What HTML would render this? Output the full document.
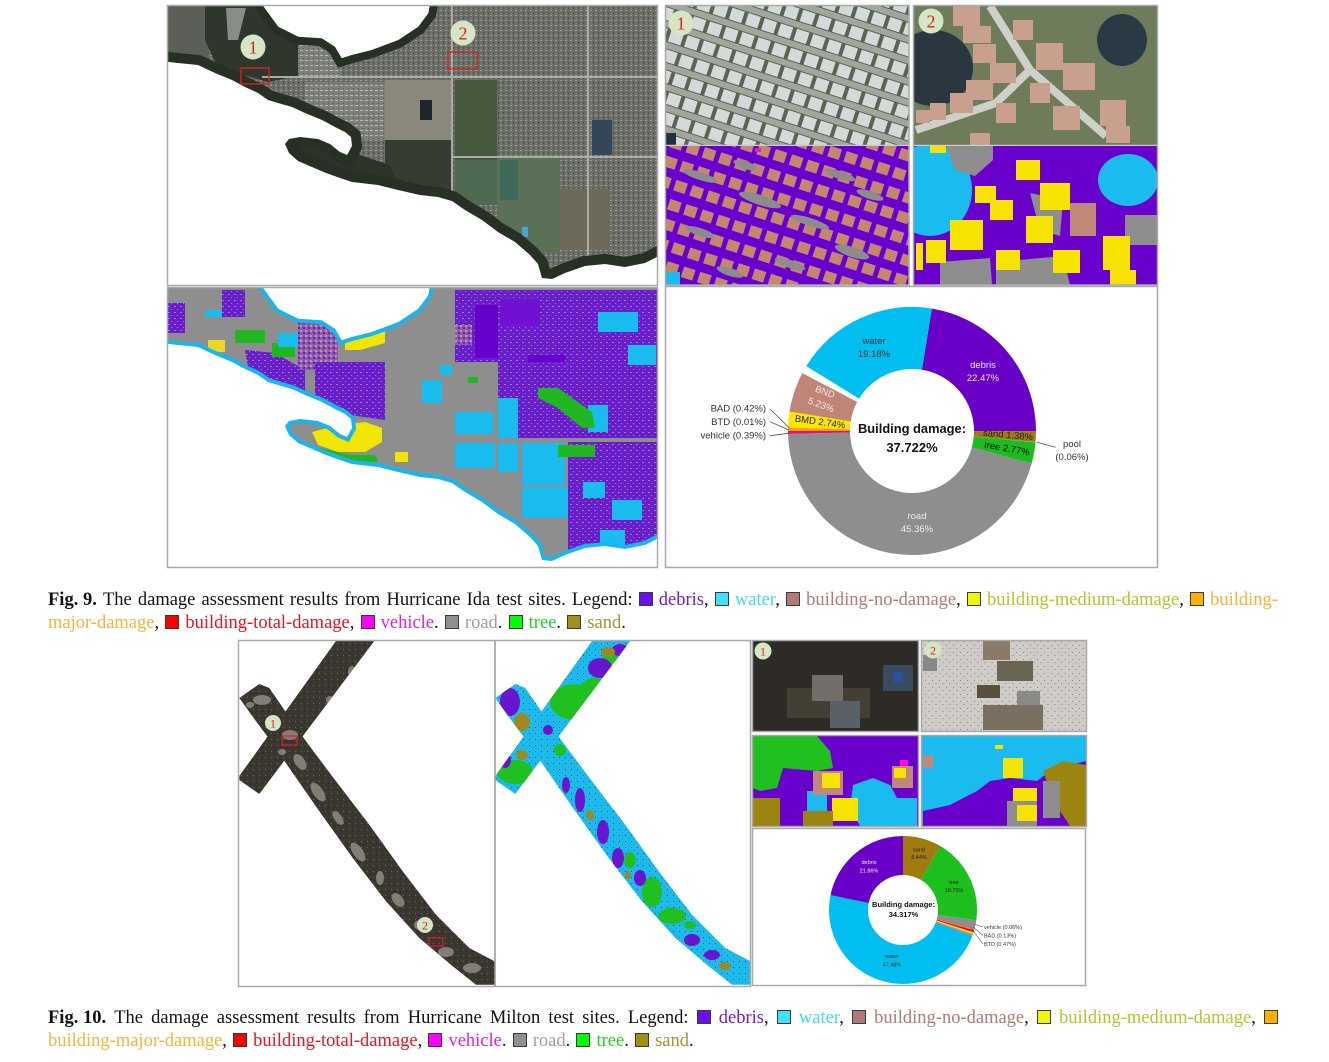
<!DOCTYPE html>
<html><head><meta charset="utf-8">
<style>
html,body{margin:0;padding:0;background:#fff;width:1329px;height:1062px;overflow:hidden;position:relative}
svg{position:absolute;left:0;top:0}
.cap{position:absolute;left:48px;width:1230px;height:23px;line-height:23px;font-family:"Liberation Serif",serif;font-size:18.5px;color:#111;white-space:nowrap}
.j{display:flex;justify-content:space-between}
.l2{word-spacing:1.5px}
.q{display:inline-block;width:12px;height:12px;border:1px solid #3a3a3a;vertical-align:-1px}
.cd{color:#6d1be0}.cw{color:#45d6f0}.cn{color:#b07a78}.cm{color:#b4c42a}.cj{color:#f7b33a}.ct{color:#e8141e}.cv{color:#e020e0}.cr{color:#a0a0a0}.ce{color:#1ed21e}.cs{color:#a89030}
</style></head><body>
<svg width="1329" height="1062" viewBox="0 0 1329 1062" xmlns="http://www.w3.org/2000/svg">
<defs>
<polygon id="wTop" points="261.7,4 278.3,26.7 298.3,36.7 321.7,38.3 335,46.7 341.7,58.3 351.7,55 371.7,50 398.3,40 418.3,26.7 428.3,13.3 430,4"/>
<polygon id="wBot" points="166,61.7 178,63 198,65 215,73 232,80 245,87 258,93 268,100 278,103 292,107 305,113 322,120 335,127 345,132 351,137 352,146 347,155 340,152 330,144 318,139 300,137 289,139 285,144 289,153 298,161 312,167 326,173 340,178 352,182 378,185 398,190 420,195 438,197 452,201 465,210 482,220 498,232 515,242 530,255 538,264 542,278 552,279 565,273 585,266 605,264 625,267 645,263 659,256 659,289 166,289"/>
<polygon id="s1" points="239.3,776 336,641 374.3,641 259.3,794 239.3,780"/>
<polygon id="s2" points="239.3,698 259.3,684 269.3,688 306,741.3 336,781.3 369.3,824.7 402.7,871.3 436,914.7 469.3,948 494.5,961.3 494.5,984.7 476,984.7 452.7,966.3 419.3,938 386,901.3 352.7,858 319.3,811.3 289.3,768 271,741.3 256,721.3"/>
<clipPath id="cA"><rect x="168" y="6" width="489" height="279"/></clipPath>
<clipPath id="cB"><rect x="168" y="288" width="489" height="279"/></clipPath>
<clipPath id="cR1s"><rect x="666" y="6" width="243" height="139"/></clipPath>
<clipPath id="cR1g"><rect x="666" y="146" width="243" height="139"/></clipPath>
<clipPath id="cR2s"><rect x="914" y="6" width="243" height="139"/></clipPath>
<clipPath id="cR2g"><rect x="914" y="146" width="243" height="139"/></clipPath>
<clipPath id="cX1"><use href="#s1"/><use href="#s2"/></clipPath>
<clipPath id="cX2"><use href="#s1" transform="translate(256,0)"/><use href="#s2" transform="translate(256,0)"/></clipPath>
<clipPath id="cP1"><rect x="753" y="641" width="165" height="90"/></clipPath>
<clipPath id="cP2"><rect x="922" y="641" width="164" height="90"/></clipPath>
<clipPath id="cP3"><rect x="753" y="736" width="165" height="90"/></clipPath>
<clipPath id="cP4"><rect x="922" y="736" width="164" height="90"/></clipPath>
<pattern id="urb" width="5" height="5" patternUnits="userSpaceOnUse">
<rect width="5" height="5" fill="#6a6e66"/><rect x="0" y="0" width="2" height="1" fill="#9a9d96"/><rect x="3" y="2" width="1" height="2" fill="#4c5248"/><rect x="1" y="3" width="1" height="1" fill="#858880"/>
</pattern>
<pattern id="urbL" width="5" height="5" patternUnits="userSpaceOnUse">
<rect width="5" height="5" fill="#7d7f79"/><rect x="0" y="0" width="3" height="1" fill="#b5b7b1"/><rect x="3" y="3" width="1" height="1" fill="#555951"/>
</pattern>
<pattern id="roofs1" width="17" height="20" patternUnits="userSpaceOnUse" patternTransform="rotate(18)">
<rect width="17" height="20" fill="#5a6454"/><rect x="0" y="14" width="17" height="6" fill="#a3a69f"/><rect x="2" y="1" width="13" height="12" fill="#d6d9d9"/>
</pattern>
<pattern id="seg1" width="17" height="20" patternUnits="userSpaceOnUse" patternTransform="rotate(18)">
<rect width="17" height="20" fill="#6a00d0"/><rect x="2" y="2" width="12" height="11" fill="#c3866f"/>
</pattern>
<pattern id="spk" width="6" height="6" patternUnits="userSpaceOnUse">
<rect width="6" height="6" fill="#6a1cd0"/><rect x="0" y="0" width="2" height="1" fill="#8e8e8e"/><rect x="3" y="3" width="1" height="1" fill="#b07f9a"/>
</pattern>
<pattern id="spk2" width="5" height="5" patternUnits="userSpaceOnUse">
<rect width="5" height="5" fill="#8c5cb0"/><rect x="0" y="0" width="2" height="2" fill="#c59a80"/><rect x="3" y="2" width="2" height="2" fill="#6a1cd0"/>
</pattern>
<pattern id="stex" width="6" height="6" patternUnits="userSpaceOnUse">
<rect width="6" height="6" fill="#3a3630"/><rect x="1" y="1" width="1" height="1" fill="#6e6a62"/><rect x="4" y="3" width="1" height="1" fill="#27241f"/>
</pattern>
<pattern id="smix" width="6" height="6" patternUnits="userSpaceOnUse">
<rect width="6" height="6" fill="#1abbef"/><rect x="1" y="1" width="1" height="1" fill="#6a14d0"/><rect x="4" y="4" width="1" height="1" fill="#20c020"/>
</pattern>
<pattern id="ssat2" width="7" height="7" patternUnits="userSpaceOnUse">
<rect width="7" height="7" fill="#cfcbc6"/><rect x="1" y="1" width="1" height="1" fill="#8a8680"/><rect x="4" y="4" width="2" height="1" fill="#a9a59f"/>
</pattern>
</defs>

<!-- ============ FIG 9 satellite map ============ -->
<g clip-path="url(#cA)">
<rect x="168" y="6" width="489" height="279" fill="url(#urb)"/>
<rect x="168" y="6" width="40" height="56" fill="#5b5f58"/>
<polygon points="205,6 262,6 278,27 298,37 298,76 268,82 240,74 215,62 205,40" fill="#2f372d"/>
<polygon points="226,8 246,8 238,40 228,40" fill="#8a8c88"/>
<polygon points="298,37 322,38 335,47 342,60 340,76 298,76" fill="url(#urbL)"/>
<rect x="305" y="82" width="80" height="58" fill="url(#urbL)"/>
<rect x="385" y="80" width="67" height="60" fill="#8a877d"/>
<rect x="420" y="100" width="12" height="20" fill="#1f262b"/>
<rect x="385" y="140" width="67" height="60" fill="#353d33"/>
<polygon points="285,140 350,140 360,155 390,165 400,190 352,184 312,168 288,153" fill="#2c3429"/>
<rect x="455" y="80" width="42" height="80" fill="#46593f"/>
<rect x="455" y="160" width="42" height="45" fill="#4f6a52"/>
<rect x="497" y="157" width="63" height="95" fill="#5b7157"/>
<rect x="500" y="160" width="18" height="40" fill="#3f6a5a"/>
<rect x="560" y="190" width="50" height="60" fill="#6e6a5a"/>
<rect x="592" y="120" width="20" height="35" fill="#34465a"/>
<rect x="522" y="227" width="6" height="10" fill="#4aa0e0"/>
<path d="M262,77 H657 M452,6 V200 M452,157 H657 M588,6 V270" stroke="#a9aba4" stroke-width="2" fill="none"/>
<use href="#wBot" fill="none" stroke="#283026" stroke-width="20"/>
<use href="#wTop" fill="none" stroke="#283026" stroke-width="16"/>
<use href="#wBot" fill="#fff"/>
<use href="#wTop" fill="#fff"/>
</g>
<rect x="241" y="68" width="28" height="16" fill="none" stroke="#e02020" stroke-width="1.3"/>
<rect x="448" y="52" width="29" height="17" fill="none" stroke="#e02020" stroke-width="1.3"/>
<circle cx="253" cy="47" r="12.5" fill="#d4e6c4"/>
<text x="253" y="53.5" font-family="Liberation Serif,serif" font-size="18" fill="#e02020" text-anchor="middle">1</text>
<circle cx="463" cy="33" r="12.5" fill="#d4e6c4"/>
<text x="463" y="39.5" font-family="Liberation Serif,serif" font-size="18" fill="#e02020" text-anchor="middle">2</text>
<rect x="167.5" y="5.5" width="490" height="280" fill="none" stroke="#a9a9a9" stroke-width="1.5"/>

<!-- ============ FIG 9 segmentation map ============ -->
<g clip-path="url(#cB)">
<rect x="168" y="288" width="489" height="279" fill="#8e8e8e"/>
<rect x="455" y="290" width="202" height="72" fill="url(#spk)"/>
<rect x="475" y="305" width="23" height="53" fill="#6500cc"/>
<rect x="528" y="355" width="37" height="30" fill="#6a00d0"/>
<rect x="500" y="300" width="40" height="25" fill="#7010d0"/>
<rect x="498" y="362" width="159" height="78" fill="url(#spk)"/>
<rect x="568" y="442" width="89" height="125" fill="url(#spk)"/>
<rect x="455" y="325" width="17" height="20" fill="url(#spk2)"/>
<rect x="598" y="312" width="40" height="20" fill="#1abbef"/>
<rect x="628" y="345" width="28" height="20" fill="#1abbef"/>
<rect x="455" y="412" width="38" height="22" fill="#1abbef"/>
<rect x="498" y="398" width="20" height="40" fill="#1abbef"/>
<rect x="588" y="405" width="20" height="27" fill="#1abbef"/>
<rect x="422" y="380" width="20" height="23" fill="#1abbef"/>
<rect x="455" y="443" width="40" height="25" fill="#1abbef"/>
<rect x="498" y="443" width="20" height="29" fill="#1abbef"/>
<rect x="522" y="443" width="43" height="42" fill="#1abbef"/>
<rect x="522" y="487" width="46" height="31" fill="#1abbef"/>
<rect x="583" y="482" width="22" height="16" fill="#1abbef"/>
<rect x="612" y="500" width="30" height="20" fill="#1abbef"/>
<rect x="600" y="530" width="25" height="18" fill="#1abbef"/>
<polygon points="538,388 558,388 592,412 595,428 582,428 558,408 538,398" fill="#20b820"/>
<rect x="558" y="445" width="37" height="12" fill="#20b820"/>
<rect x="468" y="377" width="10" height="6" fill="#20b820"/>
<path d="M452,288 V470 M452,440 H657" stroke="#8e8e8e" stroke-width="4"/>
<polygon points="245,350 275,353 305,370 305,393 275,383 248,367" fill="url(#spk)"/>
<rect x="298" y="320" width="40" height="50" fill="url(#spk2)"/>
<polygon points="315,362 385,362 385,420 350,415 315,395" fill="url(#spk)"/>
<rect x="168" y="303" width="17" height="30" fill="url(#spk)"/>
<rect x="222" y="290" width="23" height="27" fill="url(#spk)"/>
<rect x="235" y="330" width="30" height="13" fill="#20b820"/>
<rect x="272" y="343" width="23" height="14" fill="#20b820"/>
<rect x="278" y="333" width="20" height="14" fill="#1abbef"/>
<rect x="205" y="310" width="17" height="7" fill="#1abbef"/>
<polygon points="345,340 370,333 385,330 385,343 360,350 345,350" fill="#f2e600"/>
<rect x="208" y="340" width="17" height="12" fill="#e8d820"/>
<polygon points="312,432 338,425 365,422 382,428 382,442 365,452 338,452 318,445" fill="#f2e600"/>
<polygon points="305,445 330,450 350,455 375,455 378,462 340,462 310,455" fill="#20b820"/>
<rect x="395" y="452" width="13" height="10" fill="#f2e600"/>
<rect x="440" y="365" width="12" height="10" fill="#1abbef"/>
<use href="#wBot" transform="translate(0,282)" fill="none" stroke="#19b6ec" stroke-width="8"/>
<use href="#wTop" transform="translate(0,282)" fill="none" stroke="#19b6ec" stroke-width="8"/>
<use href="#wBot" transform="translate(0,282)" fill="#fff"/>
<use href="#wTop" transform="translate(0,282)" fill="#fff"/>
</g>
<rect x="167.5" y="287.5" width="490" height="280" fill="none" stroke="#a9a9a9" stroke-width="1.5"/>

<!-- ============ FIG 9 right top panels ============ -->
<g clip-path="url(#cR1s)">
<rect x="666" y="6" width="243" height="139" fill="url(#roofs1)"/>
<rect x="666" y="133" width="10" height="12" fill="#203040"/>
</g>
<g clip-path="url(#cR1g)">
<rect x="666" y="146" width="243" height="139" fill="url(#seg1)"/>
<g fill="#8c8c8c">
<ellipse cx="700" cy="176" rx="18" ry="4" transform="rotate(18 700 176)"/>
<ellipse cx="760" cy="200" rx="22" ry="5" transform="rotate(18 760 200)"/>
<ellipse cx="810" cy="222" rx="20" ry="4" transform="rotate(18 810 222)"/>
<ellipse cx="700" cy="232" rx="15" ry="4" transform="rotate(18 700 232)"/>
<ellipse cx="852" cy="252" rx="18" ry="5" transform="rotate(18 852 252)"/>
<ellipse cx="790" cy="264" rx="16" ry="4" transform="rotate(18 790 264)"/>
<ellipse cx="745" cy="165" rx="12" ry="4" transform="rotate(18 745 165)"/>
<ellipse cx="870" cy="195" rx="14" ry="4" transform="rotate(18 870 195)"/>
<ellipse cx="840" cy="175" rx="16" ry="4" transform="rotate(18 840 175)"/>
<ellipse cx="730" cy="272" rx="14" ry="4" transform="rotate(18 730 272)"/>
</g>
<rect x="755" y="148" width="6" height="4" fill="#e020c0"/>
<rect x="666" y="272" width="14" height="13" fill="#1abbef"/>
</g>
<g clip-path="url(#cR2s)">
<rect x="914" y="6" width="243" height="139" fill="#6f7c5c"/>
<ellipse cx="933" cy="68" rx="40" ry="38" fill="#2b3740"/>
<ellipse cx="1122" cy="40" rx="25" ry="26" fill="#2a3a44"/>
<path d="M990,6 L1030,70 L1106,136 M1030,70 L996,103 L916,130" stroke="#cfd0c8" stroke-width="8" fill="none"/>
<g fill="#c9a08e">
<rect x="953" y="6" width="27" height="20"/><rect x="963" y="26" width="28" height="17"/><rect x="973" y="44" width="23" height="19"/>
<rect x="990" y="63" width="26" height="20"/><rect x="966" y="80" width="27" height="20"/><rect x="950" y="93" width="23" height="20"/>
<rect x="930" y="103" width="16" height="17"/><rect x="996" y="103" width="20" height="20"/><rect x="1013" y="20" width="20" height="20"/>
<rect x="1036" y="43" width="27" height="27"/><rect x="1063" y="63" width="32" height="27"/><rect x="1030" y="83" width="20" height="20"/>
<rect x="1053" y="106" width="27" height="24"/><rect x="1100" y="100" width="26" height="26"/><rect x="1106" y="126" width="24" height="17"/>
<rect x="970" y="133" width="20" height="12"/><rect x="916" y="110" width="14" height="13"/>
</g>
</g>
<g clip-path="url(#cR2g)">
<rect x="914" y="146" width="243" height="139" fill="#6a00cc"/>
<ellipse cx="930" cy="190" rx="42" ry="46" fill="#1abbef"/>
<ellipse cx="1128" cy="180" rx="30" ry="26" fill="#1abbef"/>
<g fill="#8e8e8e">
<polygon points="946,146 993,146 993,160 975,176 955,170"/>
<polygon points="1030,193 1063,200 1060,236 1040,230"/>
<polygon points="996,262 1063,256 1070,285 996,285"/>
<polygon points="940,262 990,258 992,285 940,285"/>
<rect x="1125" y="215" width="32" height="30"/>
</g>
<rect x="1070" y="203" width="26" height="33" fill="#c08878"/>
<g fill="#f7e300">
<rect x="1016" y="160" width="24" height="20"/><rect x="975" y="186" width="21" height="17"/><rect x="990" y="200" width="23" height="20"/>
<rect x="1040" y="183" width="30" height="27"/><rect x="1026" y="216" width="27" height="27"/><rect x="950" y="220" width="33" height="30"/>
<rect x="926" y="240" width="20" height="23"/><rect x="996" y="250" width="24" height="20"/><rect x="1053" y="250" width="27" height="23"/>
<rect x="1103" y="236" width="27" height="34"/><rect x="1110" y="270" width="26" height="15"/><rect x="916" y="243" width="7" height="27"/>
<rect x="930" y="146" width="16" height="7"/>
</g>
</g>
<rect x="665.5" y="5.5" width="243.5" height="279.5" fill="none" stroke="#a9a9a9" stroke-width="1.5"/>
<line x1="666" y1="145.3" x2="909" y2="145.3" stroke="#bbb" stroke-width="1"/>
<rect x="913.5" y="5.5" width="244" height="279.5" fill="none" stroke="#a9a9a9" stroke-width="1.5"/>
<line x1="914" y1="145.3" x2="1157" y2="145.3" stroke="#bbb" stroke-width="1"/>
<circle cx="681" cy="23" r="12.5" fill="#d4e6c4"/>
<text x="681" y="29.5" font-family="Liberation Serif,serif" font-size="18" fill="#e02020" text-anchor="middle">1</text>
<circle cx="931" cy="21" r="12.5" fill="#d4e6c4"/>
<text x="931" y="27.5" font-family="Liberation Serif,serif" font-size="18" fill="#e02020" text-anchor="middle">2</text>

<!-- ============ FIG 9 donut ============ -->
<rect x="665.5" y="286.5" width="492" height="281" fill="#fff" stroke="#a9a9a9" stroke-width="1.5"/>
<g fill="none" stroke-width="62" transform="rotate(-80.8 912 431)">
<circle cx="912" cy="431" r="93" stroke="#6a00c8" stroke-dasharray="131.3 600" stroke-dashoffset="0"/>
<circle cx="912" cy="431" r="93" stroke="#a07c10" stroke-dasharray="8.06 600" stroke-dashoffset="-131.3"/>
<circle cx="912" cy="431" r="93" stroke="#58a8d8" stroke-dasharray="0.6 600" stroke-dashoffset="-139.37"/>
<circle cx="912" cy="431" r="93" stroke="#1cbc1c" stroke-dasharray="16.19 600" stroke-dashoffset="-139.72"/>
<circle cx="912" cy="431" r="93" stroke="#8e8e8e" stroke-dasharray="265.06 600" stroke-dashoffset="-155.91"/>
<circle cx="912" cy="431" r="93" stroke="#e0108a" stroke-dasharray="2.28 600" stroke-dashoffset="-420.97"/>
<circle cx="912" cy="431" r="93" stroke="#ff0000" stroke-dasharray="0.3 600" stroke-dashoffset="-423.25"/>
<circle cx="912" cy="431" r="93" stroke="#ffa500" stroke-dasharray="2.45 600" stroke-dashoffset="-423.31"/>
<circle cx="912" cy="431" r="93" stroke="#ffe600" stroke-dasharray="16.01 600" stroke-dashoffset="-425.76"/>
<circle cx="912" cy="431" r="93" stroke="#c08478" stroke-dasharray="30.56 600" stroke-dashoffset="-437.77"/>
<circle cx="912" cy="431" r="93" stroke="#00bef0" stroke-dasharray="110.01 600" stroke-dashoffset="-474.33"/>
</g>
<g font-family="Liberation Sans,sans-serif" font-size="9.5" text-anchor="middle">
<text x="874" y="344" fill="#333">water</text><text x="874" y="357" fill="#333">19.18%</text>
<text x="983" y="368" fill="#ece4ff">debris</text><text x="983" y="381" fill="#ece4ff">22.47%</text>
<text x="825" y="395" fill="#f8e6e0" transform="rotate(20 825 392)">BND</text>
<text x="821" y="408" fill="#f8e6e0" transform="rotate(20 821 405)">5.23%</text>
<text x="820" y="425" fill="#222" transform="rotate(8 820 422)">BMD 2.74%</text>
<text x="1008" y="438" fill="#222" transform="rotate(5 1008 435)">sand 1.38%</text>
<text x="1007" y="451.5" fill="#111" transform="rotate(10 1007 448)">tree 2.77%</text>
<text x="917" y="519" fill="#eee">road</text><text x="917" y="532" fill="#eee">45.36%</text>
<text x="1072" y="447" fill="#333">pool</text><text x="1072" y="460" fill="#333">(0.06%)</text>
<text x="766" y="411.5" fill="#333" text-anchor="end">BAD (0.42%)</text>
<text x="766" y="425" fill="#333" text-anchor="end">BTD (0.01%)</text>
<text x="766" y="438.5" fill="#333" text-anchor="end">vehicle (0.39%)</text>
<text x="912" y="433" fill="#111" font-weight="bold" font-size="13" textLength="108" lengthAdjust="spacingAndGlyphs">Building damage:</text>
<text x="912" y="452" fill="#111" font-weight="bold" font-size="13">37.722%</text>
</g>
<g stroke="#555" stroke-width="0.8" fill="none">
<path d="M770,409 L789,427.7 M770,421.7 L789,430 M770,435.7 L789,433.3 M1036.7,442.3 L1055.7,447.3"/>
</g>

<!-- ============ FIG 10 strips ============ -->
<g clip-path="url(#cX1)">
<rect x="239" y="641" width="256" height="345" fill="url(#stex)"/>
<g fill="#a29d93" opacity="0.7">
<ellipse cx="262" cy="700" rx="9" ry="5"/><ellipse cx="290" cy="735" rx="8" ry="5"/><ellipse cx="300" cy="762" rx="5" ry="9" transform="rotate(-35 300 762)"/>
<ellipse cx="318" cy="792" rx="5" ry="11" transform="rotate(-35 318 792)"/><ellipse cx="338" cy="818" rx="4" ry="8" transform="rotate(-35 338 818)"/><ellipse cx="358" cy="852" rx="5" ry="11" transform="rotate(-35 358 852)"/>
<ellipse cx="380" cy="878" rx="4" ry="7"/><ellipse cx="398" cy="900" rx="5" ry="8" transform="rotate(-40 398 900)"/><ellipse cx="420" cy="925" rx="6" ry="5"/>
<ellipse cx="446" cy="952" rx="8" ry="5"/><ellipse cx="472" cy="968" rx="9" ry="5"/><ellipse cx="282" cy="752" rx="4" ry="3"/>
<ellipse cx="250" cy="705" rx="4" ry="3"/><ellipse cx="352" cy="672" rx="4" ry="6"/><ellipse cx="330" cy="700" rx="4" ry="4"/>
</g>
</g>
<rect x="282" y="736" width="15" height="9" fill="none" stroke="#e02020" stroke-width="1.2"/>
<rect x="429" y="938" width="14" height="8" fill="none" stroke="#e02020" stroke-width="1.2"/>
<circle cx="273" cy="723" r="8" fill="#d4e6c4"/>
<text x="273" y="727.5" font-family="Liberation Serif,serif" font-size="12" fill="#e02020" text-anchor="middle">1</text>
<circle cx="425" cy="925" r="8" fill="#d4e6c4"/>
<text x="425" y="929.5" font-family="Liberation Serif,serif" font-size="12" fill="#e02020" text-anchor="middle">2</text>

<g clip-path="url(#cX2)">
<rect x="495" y="641" width="256" height="345" fill="url(#smix)"/>
<g fill="#20c020">
<ellipse cx="575" cy="702" rx="25" ry="18"/><ellipse cx="595" cy="688" rx="14" ry="10"/><ellipse cx="515" cy="772" rx="18" ry="12"/>
<ellipse cx="652" cy="892" rx="10" ry="15"/><ellipse cx="672" cy="916" rx="14" ry="8"/><ellipse cx="612" cy="660" rx="10" ry="8"/>
<ellipse cx="560" cy="750" rx="6" ry="6"/><ellipse cx="630" cy="860" rx="6" ry="8"/><ellipse cx="690" cy="925" rx="6" ry="4"/>
</g>
<g fill="#6a14d0">
<ellipse cx="600" cy="668" rx="12" ry="10"/><ellipse cx="620" cy="650" rx="8" ry="6"/><ellipse cx="510" cy="702" rx="10" ry="14"/>
<ellipse cx="505" cy="760" rx="6" ry="8"/><ellipse cx="580" cy="800" rx="5" ry="12"/><ellipse cx="603" cy="832" rx="6" ry="12"/>
<ellipse cx="618" cy="858" rx="6" ry="10"/><ellipse cx="640" cy="878" rx="6" ry="8"/><ellipse cx="692" cy="940" rx="8" ry="6"/>
<ellipse cx="712" cy="955" rx="8" ry="5"/><ellipse cx="548" cy="730" rx="5" ry="5"/><ellipse cx="566" cy="785" rx="4" ry="8"/>
</g>
<g fill="#9a8a20">
<ellipse cx="608" cy="652" rx="7" ry="5"/><ellipse cx="522" cy="722" rx="8" ry="9"/><ellipse cx="522" cy="755" rx="6" ry="5"/>
<ellipse cx="725" cy="966" rx="6" ry="4"/><ellipse cx="590" cy="815" rx="4" ry="5"/><ellipse cx="628" cy="875" rx="3" ry="4"/>
</g>
</g>
<rect x="238.5" y="640.5" width="512" height="346" fill="none" stroke="#a9a9a9" stroke-width="1.5"/>
<line x1="495" y1="641" x2="495" y2="986" stroke="#999" stroke-width="1.5"/>

<!-- ============ FIG 10 small panels ============ -->
<g clip-path="url(#cP1)">
<rect x="753" y="641" width="165" height="90" fill="#2e2a25"/>
<rect x="787" y="688" width="83" height="30" fill="#443f35"/>
<rect x="812" y="675" width="31" height="26" fill="#726e6a"/>
<rect x="830" y="701" width="30" height="27" fill="#5a6068"/>
<rect x="883" y="665" width="30" height="26" fill="#3a4a60"/>
<rect x="893" y="672" width="10" height="10" fill="#2a50a0"/>
</g>
<g clip-path="url(#cP2)">
<rect x="922" y="641" width="164" height="90" fill="url(#ssat2)"/>
<rect x="983" y="641" width="27" height="19" fill="#8a7a68"/>
<rect x="997" y="661" width="36" height="20" fill="#6a6452"/>
<rect x="1017" y="691" width="23" height="14" fill="#8a8a88"/>
<rect x="983" y="705" width="60" height="25" fill="#7a7060"/>
<rect x="977" y="685" width="23" height="13" fill="#5a5040"/>
<rect x="923" y="655" width="14" height="16" fill="#888"/>
</g>
<g clip-path="url(#cP3)">
<rect x="753" y="736" width="165" height="90" fill="#6a00cc"/>
<polygon points="753,736 817,736 830,751 833,768 817,771 783,768 780,778 777,788 760,791 753,788" fill="#20c020"/>
<polygon points="853,785 873,778 890,785 897,798 917,798 917,826 860,826 850,808" fill="#1abbef"/>
<rect x="807" y="791" width="20" height="20" fill="#1abbef"/>
<rect x="813" y="771" width="30" height="24" fill="#c0887a"/>
<rect x="822" y="773" width="18" height="15" fill="#f7e300"/>
<rect x="832" y="798" width="26" height="23" fill="#f7e300"/>
<rect x="753" y="798" width="27" height="28" fill="#9c8410"/>
<rect x="803" y="811" width="30" height="15" fill="#9c8410"/>
<rect x="892" y="766" width="21" height="22" fill="#c0887a"/>
<rect x="894" y="768" width="12" height="10" fill="#f7e300"/>
<rect x="900" y="760" width="8" height="6" fill="#ff10d0"/>
</g>
<g clip-path="url(#cP4)">
<rect x="922" y="736" width="164" height="90" fill="#1abbef"/>
<polygon points="923,826 923,811 950,805 977,791 990,781 1010,778 1037,781 1050,771 1070,765 1086,761 1086,826" fill="#6a00cc"/>
<polygon points="1043,771 1063,761 1086,765 1086,826 1070,826 1060,811 1050,791" fill="#9c8410"/>
<rect x="1007" y="801" width="30" height="25" fill="#8e8e8e"/>
<rect x="1043" y="781" width="17" height="37" fill="#8e8e8e"/>
<rect x="1003" y="758" width="20" height="20" fill="#f7e300"/>
<rect x="1013" y="788" width="24" height="13" fill="#f7e300"/>
<rect x="1017" y="805" width="20" height="16" fill="#f7e300"/>
<rect x="923" y="755" width="10" height="13" fill="#c0887a"/>
<rect x="995" y="745" width="8" height="4" fill="#f7e300"/>
</g>
<rect x="752.5" y="640.5" width="166" height="91" fill="none" stroke="#a9a9a9" stroke-width="1.5"/>
<rect x="921.5" y="640.5" width="165" height="91" fill="none" stroke="#a9a9a9" stroke-width="1.5"/>
<rect x="752.5" y="735.5" width="166" height="91" fill="none" stroke="#a9a9a9" stroke-width="1.5"/>
<rect x="921.5" y="735.5" width="165" height="91" fill="none" stroke="#a9a9a9" stroke-width="1.5"/>
<circle cx="763" cy="651" r="8.5" fill="#d4e6c4"/>
<text x="763" y="655.5" font-family="Liberation Serif,serif" font-size="12" fill="#e02020" text-anchor="middle">1</text>
<circle cx="933" cy="650" r="8.5" fill="#d4e6c4"/>
<text x="933" y="654.5" font-family="Liberation Serif,serif" font-size="12" fill="#e02020" text-anchor="middle">2</text>

<!-- ============ FIG 10 donut ============ -->
<rect x="752.5" y="828.5" width="333" height="157" fill="#fff" stroke="#a9a9a9" stroke-width="1.5"/>
<g fill="none" stroke-width="39" transform="rotate(-90 903 910)">
<circle cx="903" cy="910" r="54.5" stroke="#a07c10" stroke-dasharray="28.9 400" stroke-dashoffset="0"/>
<circle cx="903" cy="910" r="54.5" stroke="#1cc01c" stroke-dasharray="64.21 400" stroke-dashoffset="-28.9"/>
<circle cx="903" cy="910" r="54.5" stroke="#8e8e8e" stroke-dasharray="6.85 400" stroke-dashoffset="-93.11"/>
<circle cx="903" cy="910" r="54.5" stroke="#e0108a" stroke-dasharray="0.3 400" stroke-dashoffset="-99.96"/>
<circle cx="903" cy="910" r="54.5" stroke="#ffa500" stroke-dasharray="0.6 400" stroke-dashoffset="-100.16"/>
<circle cx="903" cy="910" r="54.5" stroke="#ff0000" stroke-dasharray="1.61 400" stroke-dashoffset="-100.61"/>
<circle cx="903" cy="910" r="54.5" stroke="#ffe600" stroke-dasharray="1.37 400" stroke-dashoffset="-102.22"/>
<circle cx="903" cy="910" r="54.5" stroke="#c08478" stroke-dasharray="1.37 400" stroke-dashoffset="-103.59"/>
<circle cx="903" cy="910" r="54.5" stroke="#00bef0" stroke-dasharray="162.59 400" stroke-dashoffset="-104.96"/>
<circle cx="903" cy="910" r="54.5" stroke="#6a00c8" stroke-dasharray="74.88 400" stroke-dashoffset="-267.55"/>
</g>
<g font-family="Liberation Sans,sans-serif" font-size="5.5" text-anchor="middle">
<text x="919" y="851.5" fill="#222">sand</text><text x="919" y="859" fill="#222">8.44%</text>
<text x="869" y="864" fill="#eee">debris</text><text x="869" y="872.5" fill="#eee">21.86%</text>
<text x="954" y="884" fill="#222">tree</text><text x="954" y="892" fill="#222">18.75%</text>
<text x="892" y="958" fill="#333">water</text><text x="892" y="966.5" fill="#333">47.48%</text>
<text x="984" y="929" fill="#333" text-anchor="start">vehicle (0.06%)</text>
<text x="984" y="937.5" fill="#333" text-anchor="start">BAD (0.13%)</text>
<text x="984" y="946" fill="#333" text-anchor="start">BTD (0.47%)</text>
<text x="903.5" y="907" fill="#111" font-weight="bold" font-size="7.5">Building damage:</text>
<text x="903.5" y="917" fill="#111" font-weight="bold" font-size="7.5">34.317%</text>
</g>
<path d="M974,924 L983,927 M973,927 L983,935.5 M972,929 L983,944" stroke="#555" stroke-width="0.6" fill="none"/>
</svg>

<div class="cap j" style="top:589px">
<span><b>Fig. 9.</b></span><span>The</span><span>damage</span><span>assessment</span><span>results</span><span>from</span><span>Hurricane</span><span>Ida</span><span>test</span><span>sites.</span><span>Legend:</span><span><i class="q" style="background:#6a10f0"></i></span><span><span class="cd">debris</span>,</span><span><i class="q" style="background:#40e0f8"></i></span><span><span class="cw">water</span>,</span><span><i class="q" style="background:#b07878"></i></span><span><span class="cn">building-no-damage</span>,</span><span><i class="q" style="background:#f0f800"></i></span><span><span class="cm">building-medium-damage</span>,</span><span><i class="q" style="background:#ffb000"></i></span><span class="cj">building-</span>
</div>
<div class="cap l2" style="top:612px"><span class="cj">major-damage</span>, <i class="q" style="background:#ff0000"></i> <span class="ct">building-total-damage</span>, <i class="q" style="background:#ff00ff"></i> <span class="cv">vehicle</span>. <i class="q" style="background:#909090"></i> <span class="cr">road</span>. <i class="q" style="background:#00ff00"></i> <span class="ce">tree</span>. <i class="q" style="background:#a09018"></i> <span class="cs">sand</span>.</div>

<div class="cap j" style="top:1007px">
<span><b>Fig. 10.</b></span><span>The</span><span>damage</span><span>assessment</span><span>results</span><span>from</span><span>Hurricane</span><span>Milton</span><span>test</span><span>sites.</span><span>Legend:</span><span><i class="q" style="background:#6a10f0"></i></span><span><span class="cd">debris</span>,</span><span><i class="q" style="background:#40e0f8"></i></span><span><span class="cw">water</span>,</span><span><i class="q" style="background:#b07878"></i></span><span><span class="cn">building-no-damage</span>,</span><span><i class="q" style="background:#f0f800"></i></span><span><span class="cm">building-medium-damage</span>,</span><span><i class="q" style="background:#ffb000"></i></span>
</div>
<div class="cap l2" style="top:1030px"><span class="cj">building-major-damage</span>, <i class="q" style="background:#ff0000"></i> <span class="ct">building-total-damage</span>, <i class="q" style="background:#ff00ff"></i> <span class="cv">vehicle</span>. <i class="q" style="background:#909090"></i> <span class="cr">road</span>. <i class="q" style="background:#00ff00"></i> <span class="ce">tree</span>. <i class="q" style="background:#a09018"></i> <span class="cs">sand</span>.</div>
</body></html>
